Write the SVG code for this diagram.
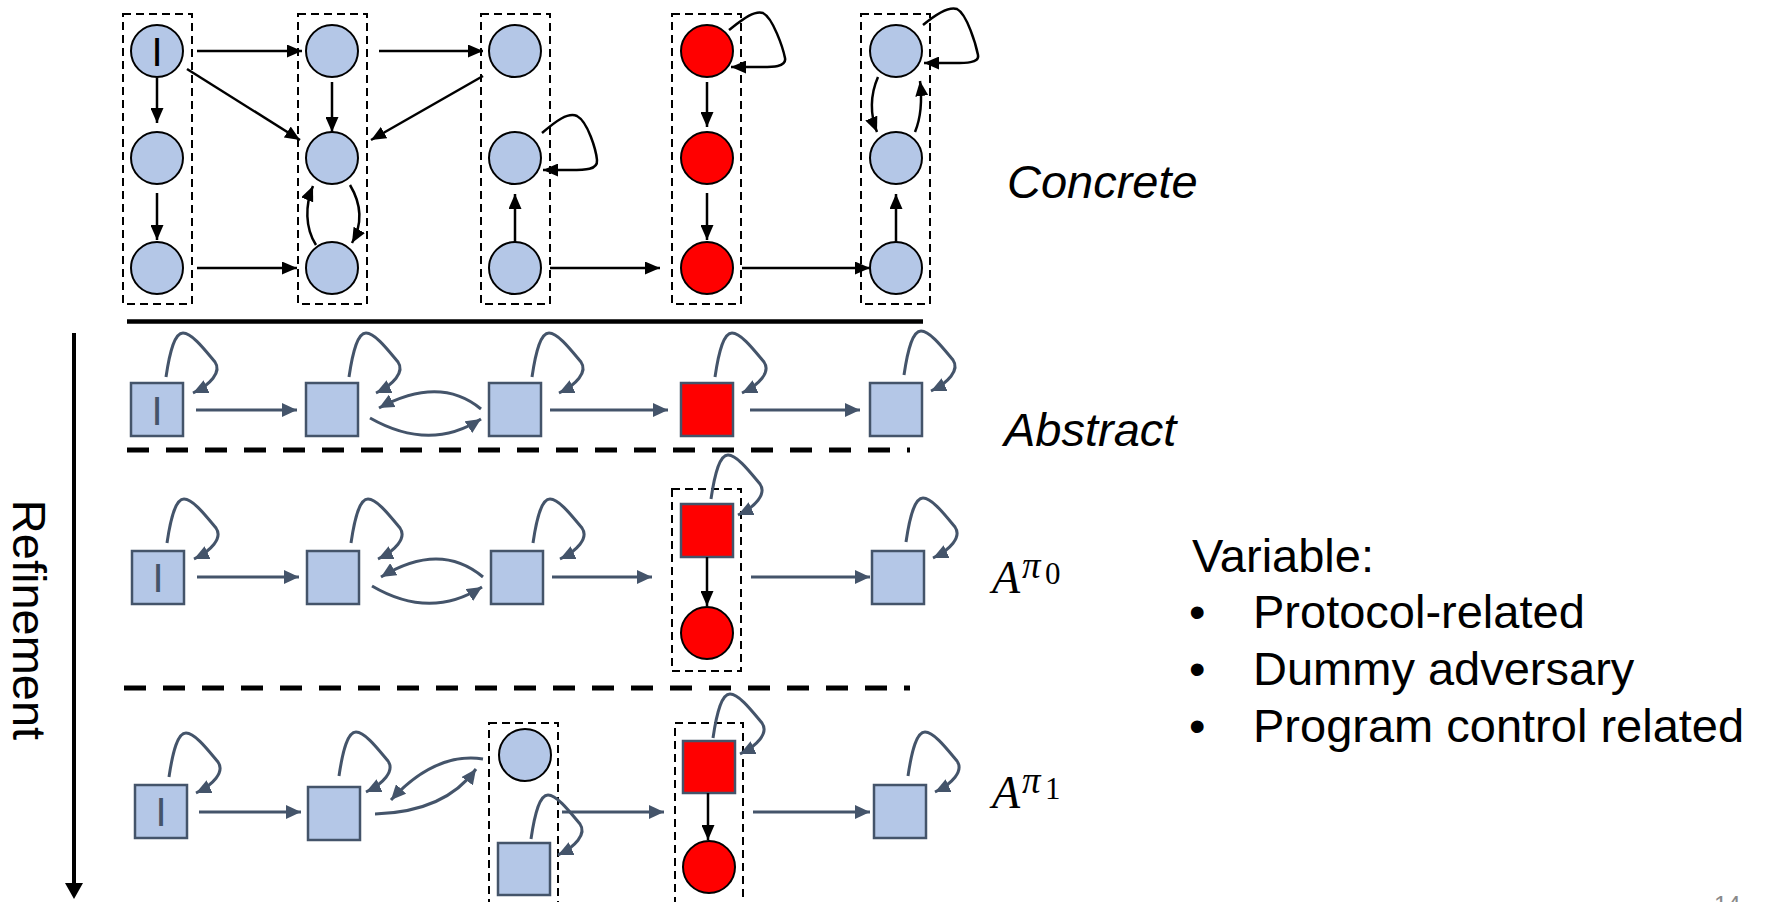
<svg xmlns="http://www.w3.org/2000/svg" width="1768" height="902" viewBox="0 0 1768 902">
<style>
.cn{fill:#B4C7E7;stroke:#000;stroke-width:2}
.cr{fill:#FF0000;stroke:#000;stroke-width:2}
.sq{fill:#B4C7E7;stroke:#44546A;stroke-width:2.5}
.sqr{fill:#FF0000;stroke:#44546A;stroke-width:2.5}
.grp{fill:none;stroke:#000;stroke-width:2;stroke-dasharray:8 5}
.ek{fill:none;stroke:#000;stroke-width:2.5;marker-end:url(#ak)}
.es{fill:none;stroke:#44546A;stroke-width:3;marker-end:url(#as)}
.lbl{font-family:"Liberation Sans",Arial,sans-serif;text-anchor:middle}
.t{font-family:"Liberation Sans",Arial,sans-serif;font-size:47px;fill:#000}
.m{font-family:"Liberation Serif","Times New Roman",serif;fill:#000}
</style>
<defs>
<marker id="ak" markerUnits="userSpaceOnUse" markerWidth="16" markerHeight="13" refX="15" refY="6.5" orient="auto"><path d="M0,0 L15,6.5 L0,13 z" fill="#000"/></marker>
<marker id="as" markerUnits="userSpaceOnUse" markerWidth="16" markerHeight="14" refX="15" refY="7" orient="auto"><path d="M0,0 L15,7 L0,14 z" fill="#44546A"/></marker>
</defs>

<!-- separators -->
<g id="separators">
<line x1="127" y1="321.5" x2="923" y2="321.5" stroke="#000" stroke-width="4.5"/>
<line x1="127" y1="450" x2="910" y2="450" stroke="#000" stroke-width="5" stroke-dasharray="22 17"/>
<line x1="124" y1="688" x2="910" y2="688" stroke="#000" stroke-width="5" stroke-dasharray="22 17"/>
</g>

<!-- concrete groups -->
<g id="concrete-groups">
<rect class="grp" x="123" y="14" width="69" height="290"/>
<rect class="grp" x="298" y="14" width="69" height="290"/>
<rect class="grp" x="481" y="14" width="69" height="290"/>
<rect class="grp" x="672" y="14" width="69" height="290"/>
<rect class="grp" x="861" y="14" width="69" height="290"/>
</g>
<g id="pi-groups">
<rect class="grp" x="672" y="489" width="69" height="182"/>
<rect class="grp" x="489" y="723" width="69" height="192"/>
<rect class="grp" x="675" y="723" width="68" height="192"/>
</g>

<!-- concrete nodes -->
<g id="c1a"><circle class="cn" cx="157" cy="51" r="26"/><text class="lbl" x="157" y="66" font-size="40">I</text></g>
<g id="c1b"><circle class="cn" cx="157" cy="158" r="26"/></g>
<g id="c1c"><circle class="cn" cx="157" cy="268" r="26"/></g>
<g id="c2a"><circle class="cn" cx="332" cy="51" r="26"/></g>
<g id="c2b"><circle class="cn" cx="332" cy="158" r="26"/></g>
<g id="c2c"><circle class="cn" cx="332" cy="268" r="26"/></g>
<g id="c3a"><circle class="cn" cx="515" cy="51" r="26"/></g>
<g id="c3b"><circle class="cn" cx="515" cy="158" r="26"/></g>
<g id="c3c"><circle class="cn" cx="515" cy="268" r="26"/></g>
<g id="c4a"><circle class="cr" cx="707" cy="51" r="26"/></g>
<g id="c4b"><circle class="cr" cx="707" cy="158" r="26"/></g>
<g id="c4c"><circle class="cr" cx="707" cy="268" r="26"/></g>
<g id="c5a"><circle class="cn" cx="896" cy="51" r="26"/></g>
<g id="c5b"><circle class="cn" cx="896" cy="158" r="26"/></g>
<g id="c5c"><circle class="cn" cx="896" cy="268" r="26"/></g>

<!-- abstract nodes -->
<g id="a1"><rect class="sq" x="131" y="383" width="52" height="53"/><text class="lbl" x="157" y="425" font-size="40" fill="#44546A">I</text></g>
<g id="a2"><rect class="sq" x="306" y="383" width="52" height="53"/></g>
<g id="a3"><rect class="sq" x="489" y="383" width="52" height="53"/></g>
<g id="a4"><rect class="sqr" x="681" y="383" width="52" height="53"/></g>
<g id="a5"><rect class="sq" x="870" y="383" width="52" height="53"/></g>

<!-- A^pi0 nodes -->
<g id="b1"><rect class="sq" x="132" y="551" width="52" height="53"/><text class="lbl" x="158" y="592" font-size="40" fill="#44546A">I</text></g>
<g id="b2"><rect class="sq" x="307" y="551" width="52" height="53"/></g>
<g id="b3"><rect class="sq" x="491" y="551" width="52" height="53"/></g>
<g id="b4s"><rect class="sqr" x="681" y="504" width="52" height="53"/></g>
<g id="b4c"><circle class="cr" cx="707" cy="633" r="26"/></g>
<g id="b5"><rect class="sq" x="872" y="551" width="52" height="53"/></g>

<!-- A^pi1 nodes -->
<g id="d1"><rect class="sq" x="135" y="785" width="52" height="53"/><text class="lbl" x="161" y="826" font-size="40" fill="#44546A">I</text></g>
<g id="d2"><rect class="sq" x="308" y="787" width="52" height="53"/></g>
<g id="d3c"><circle class="cn" cx="525" cy="755" r="26"/></g>
<g id="d3s"><rect class="sq" x="498" y="843" width="52" height="52"/></g>
<g id="d4s"><rect class="sqr" x="683" y="741" width="52" height="52"/></g>
<g id="d4c"><circle class="cr" cx="709" cy="867" r="26"/></g>
<g id="d5"><rect class="sq" x="874" y="785" width="52" height="53"/></g>

<!-- connectors -->
<g id="connectors">
<!-- concrete -->
<path class="ek" d="M197,51 H302"/>
<path class="ek" d="M379,51 H483"/>
<path class="ek" d="M187,69 L300,140"/>
<path class="ek" d="M483,76 L371,140"/>
<path class="ek" d="M157,78 V123"/>
<path class="ek" d="M157,193 V240"/>
<path class="ek" d="M332,82 V132"/>
<path class="ek" d="M350,185 C362,205 362,225 352,243"/>
<path class="ek" d="M316,245 C305,228 305,205 313,186"/>
<path class="ek" d="M197,268 H297"/>
<path class="ek" d="M515,242 V194"/>
<path class="ek" d="M542,133 C556,121 568,112 577,116 C588,122 596,150 597,160 C598,170 585,170 570,170 L543,170"/>
<path class="ek" d="M550,268 H660"/>
<path class="ek" d="M729,30 C742,20 754,10 763,13 C773,18 783,48 785,58 C787,68 770,67 755,67 L731,67"/>
<path class="ek" d="M707,82 V127"/>
<path class="ek" d="M707,193 V240"/>
<path class="ek" d="M742,268 H870"/>
<path class="ek" d="M923,25 C935,15 948,6 957,9 C967,14 976,45 978,55 C980,64 962,63 948,63 L924,63"/>
<path class="ek" d="M878,77 C870,95 870,115 877,132"/>
<path class="ek" d="M915,132 C922,115 922,98 920,81"/>
<path class="ek" d="M896,242 V194"/>
<!-- abstract -->
<path class="es" d="M166,377 c4,-27 9,-44 17,-44 c9,0 22,17 32,29 c7,10 -5,23 -22,31"/>
<path class="es" d="M349,377 c4,-27 9,-44 17,-44 c9,0 22,17 32,29 c7,10 -5,23 -22,31"/>
<path class="es" d="M532,377 c4,-27 9,-44 17,-44 c9,0 22,17 32,29 c7,10 -5,23 -22,31"/>
<path class="es" d="M715,377 c4,-27 9,-44 17,-44 c9,0 22,17 32,29 c7,10 -5,23 -22,31"/>
<path class="es" d="M904,375 c4,-27 9,-44 17,-44 c9,0 22,17 32,29 c7,10 -5,23 -22,31"/>
<path class="es" d="M196,410 H297"/>
<path class="es" d="M481,409 Q440,375 379,408"/>
<path class="es" d="M370,418 Q430,452 481,419"/>
<path class="es" d="M550,410 H668"/>
<path class="es" d="M750,410 H860"/>
<!-- A^pi0 -->
<path class="es" d="M167,543 c4,-27 9,-44 17,-44 c9,0 22,17 32,29 c7,10 -5,23 -22,31"/>
<path class="es" d="M351,543 c4,-27 9,-44 17,-44 c9,0 22,17 32,29 c7,10 -5,23 -22,31"/>
<path class="es" d="M533,543 c4,-27 9,-44 17,-44 c9,0 22,17 32,29 c7,10 -5,23 -22,31"/>
<path class="es" d="M711,499 c4,-27 9,-44 17,-44 c9,0 22,17 32,29 c7,10 -5,23 -22,31"/>
<path class="es" d="M906,542 c4,-27 9,-44 17,-44 c9,0 22,17 32,29 c7,10 -5,23 -22,31"/>
<path class="es" d="M197,577 H299"/>
<path class="es" d="M483,577 Q440,541 381,577"/>
<path class="es" d="M372,586 Q430,620 482,587"/>
<path class="es" d="M552,577 H652"/>
<path class="ek" d="M707,557 V606"/>
<path class="es" d="M751,577 H870"/>
<!-- A^pi1 -->
<path class="es" d="M169,777 c4,-27 9,-44 17,-44 c9,0 22,17 32,29 c7,10 -5,23 -22,31"/>
<path class="es" d="M339,776 c4,-27 9,-44 17,-44 c9,0 22,17 32,29 c7,10 -5,23 -22,31"/>
<path class="es" d="M531,839 c4,-27 9,-44 17,-44 c9,0 22,17 32,29 c7,10 -5,23 -22,31"/>
<path class="es" d="M713,738 c4,-27 9,-44 17,-44 c9,0 22,17 32,29 c7,10 -5,23 -22,31"/>
<path class="es" d="M908,776 c4,-27 9,-44 17,-44 c9,0 22,17 32,29 c7,10 -5,23 -22,31"/>
<path class="es" d="M199,812 H301"/>
<path class="es" d="M483,759 Q435,752 391,800"/>
<path class="es" d="M375,814 Q445,812 476,769"/>
<path class="es" d="M562,812 H664"/>
<path class="ek" d="M708,793 V840"/>
<path class="es" d="M753,812 H870"/>
<!-- refinement -->
<line x1="74" y1="333" x2="74" y2="884" stroke="#000" stroke-width="4"/>
<path d="M65,883 L83,883 L74,899 z" fill="#000"/>
</g>

<!-- labels -->
<g id="labels">
<text class="t" x="1007" y="198" font-style="italic">Concrete</text>
<text class="t" x="1004" y="446" font-style="italic">Abstract</text>
<text class="m" x="992" y="593" font-size="46" font-style="italic">A<tspan x="1022" y="578" font-size="37">π</tspan><tspan x="1045" y="584" font-size="31" font-style="normal">0</tspan></text>
<text class="m" x="992" y="808" font-size="46" font-style="italic">A<tspan x="1022" y="793" font-size="37">π</tspan><tspan x="1045" y="799" font-size="31" font-style="normal">1</tspan></text>
<text class="t" transform="translate(13,620) rotate(90)" text-anchor="middle" font-size="46">Refinement</text>
<text class="t" x="1192" y="572">Variable:</text>
<text class="t" x="1189" y="628">•</text><text class="t" x="1253" y="628">Protocol-related</text>
<text class="t" x="1189" y="685">•</text><text class="t" x="1253" y="685">Dummy adversary</text>
<text class="t" x="1189" y="742">•</text><text class="t" x="1253" y="742">Program control related</text>
<text x="1714" y="913" font-family="Liberation Sans,Arial,sans-serif" font-size="24" fill="#898989">14</text>
</g>
</svg>
